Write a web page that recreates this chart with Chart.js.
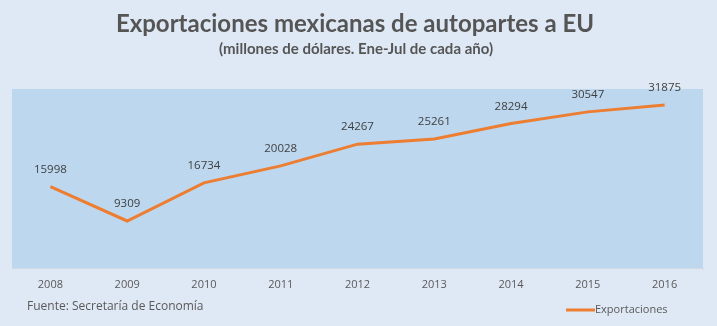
<!DOCTYPE html>
<html>
<head>
<meta charset="utf-8">
<script src="https://cdn.jsdelivr.net/npm/chart.js@4.4.0/dist/chart.umd.min.js"></script>
<style>
  html, body { margin: 0; padding: 0; background: #dfe9f5; }
  #wrap { width: 717px; height: 326px; position: relative; }
</style>
</head>
<body>
<div id="wrap"><canvas id="c"></canvas></div>
<script>
// data
const years = ['2008', '2009', '2010', '2011', '2012', '2013', '2014', '2015', '2016'];
const exportaciones = [15998, 9309, 16734, 20028, 24267, 25261, 28294, 30547, 31875];

const titleText = 'Exportaciones mexicanas de autopartes a EU';
const subtitleText = '(millones de dólares. Ene-Jul de cada año)';
const sourceText = 'Fuente: Secretaría de Economía';

const plotBg = {
  id: 'plotBg',
  beforeDraw(chart) {
    const { ctx, chartArea: a } = chart;
    ctx.save();
    ctx.fillStyle = '#bdd7ee';
    ctx.fillRect(a.left, a.top, a.right - a.left, a.bottom - a.top);
    ctx.restore();
  }
};

// titles, point labels, source note and legend
const extras = {
  id: 'extras',
  afterDraw(chart) {
    const ctx = chart.ctx;
    const meta = chart.getDatasetMeta(0);
    const ds = chart.data.datasets[0];
    ctx.save();
    ctx.textAlign = 'center';
    ctx.textBaseline = 'middle';
    ctx.fillStyle = '#555555';
    ctx.font = 'bold 24px Lato';
    ctx.fillText(titleText, 355, 24);
    ctx.font = 'bold 15px Lato';
    ctx.fillText(subtitleText, 356, 49);

    ctx.fillStyle = '#404040';
    ctx.font = '11.5px "Open Sans"';
    meta.data.forEach((pt, i) => {
      ctx.fillText(String(ds.data[i]), pt.x, pt.y - 17);
    });

    ctx.textAlign = 'left';
    ctx.fillStyle = '#595959';
    ctx.font = '12px "Open Sans"';
    ctx.fillText(sourceText, 27, 307);

    ctx.strokeStyle = ds.borderColor;
    ctx.lineWidth = 3;
    ctx.beginPath();
    ctx.moveTo(566, 310);
    ctx.lineTo(595, 310);
    ctx.stroke();
    ctx.font = '11px "Open Sans"';
    ctx.fillText(ds.label, 595, 310);
    ctx.restore();
  }
};

new Chart(document.getElementById('c'), {
  type: 'line',
  data: {
    labels: years,
    datasets: [{
      label: 'Exportaciones',
      data: exportaciones,
      borderColor: '#ed7d31',
      borderWidth: 3,
      pointRadius: 0,
      tension: 0,
      clip: false
    }]
  },
  options: {
    responsive: true,
    maintainAspectRatio: false,
    animation: false,
    layout: { padding: { left: 12, right: 14, top: 89, bottom: 34 } },
    scales: {
      x: {
        offset: true,
        grid: { display: false },
        border: { display: true, color: '#d0d8e0' },
        ticks: { color: '#595959', font: { family: 'Open Sans', size: 11 }, padding: 1 }
      },
      y: {
        display: false,
        min: 0,
        max: 35000
      }
    },
    plugins: {
      legend: { display: false },
      tooltip: { enabled: false }
    }
  },
  plugins: [plotBg, extras]
});
</script>
</body>
</html>
